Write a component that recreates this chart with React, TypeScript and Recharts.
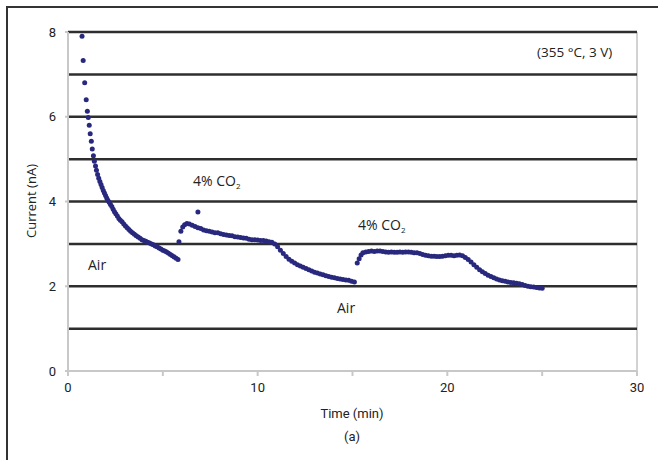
import {
  ReferenceLine,
  Scatter,
  ScatterChart,
  XAxis,
  YAxis,
} from "recharts";

// [time (min), current (nA)]
const AIR_DECAY: [number, number][] = [
  [0.74, 7.9], [0.8, 7.33], [0.88, 6.8], [0.96, 6.4], [1.02, 6.13], [1.07, 5.98],
  [1.12, 5.8], [1.17, 5.6], [1.23, 5.42], [1.28, 5.24], [1.34, 5.08], [1.39, 4.95],
  [1.45, 4.84], [1.5, 4.74], [1.56, 4.64], [1.62, 4.55], [1.68, 4.47], [1.74, 4.4],
  [1.8, 4.33], [1.86, 4.26], [1.92, 4.2], [1.98, 4.14], [2.04, 4.08], [2.1, 4.03],
  [2.17, 3.98], [2.24, 3.93], [2.31, 3.88], [2.38, 3.82], [2.45, 3.76], [2.52, 3.71],
  [2.6, 3.66], [2.68, 3.6], [2.76, 3.56], [2.85, 3.52], [2.94, 3.47], [3.03, 3.42],
  [3.12, 3.38], [3.21, 3.34], [3.3, 3.3], [3.4, 3.26], [3.5, 3.23], [3.6, 3.19],
  [3.7, 3.16], [3.8, 3.13], [3.9, 3.1], [4.0, 3.08], [4.1, 3.06], [4.2, 3.04],
  [4.3, 3.02], [4.4, 3.0], [4.5, 2.98], [4.6, 2.95], [4.7, 2.93], [4.8, 2.9],
  [4.9, 2.88], [5.0, 2.85], [5.1, 2.83], [5.2, 2.81], [5.3, 2.78], [5.4, 2.75],
  [5.5, 2.72], [5.6, 2.69], [5.7, 2.66], [5.8, 2.63],
];

const CO2_FIRST: [number, number][] = [
  [5.85, 3.05], [5.95, 3.3], [6.05, 3.4], [6.15, 3.45], [6.27, 3.48], [6.4, 3.47],
  [6.55, 3.44], [6.7, 3.41], [6.85, 3.38], [6.85, 3.75], [7.0, 3.36], [7.15, 3.33],
  [7.3, 3.31], [7.45, 3.3], [7.6, 3.28], [7.75, 3.26], [7.9, 3.26], [8.05, 3.24],
  [8.2, 3.22], [8.35, 3.21], [8.5, 3.2], [8.65, 3.19], [8.8, 3.17], [8.95, 3.16],
  [9.1, 3.15], [9.25, 3.14], [9.4, 3.13], [9.55, 3.11], [9.7, 3.1], [9.85, 3.1],
  [10.0, 3.09], [10.15, 3.08], [10.3, 3.08], [10.45, 3.07], [10.6, 3.05], [10.75, 3.04],
  [10.9, 3.0], [11.05, 2.93], [11.2, 2.85], [11.35, 2.77], [11.5, 2.7], [11.65, 2.64],
  [11.8, 2.59], [11.95, 2.55], [12.1, 2.51], [12.25, 2.48], [12.4, 2.45], [12.55, 2.42],
  [12.7, 2.39], [12.85, 2.36], [13.0, 2.33], [13.15, 2.31], [13.3, 2.29], [13.45, 2.27],
  [13.6, 2.25], [13.75, 2.23], [13.9, 2.21], [14.05, 2.2], [14.2, 2.18], [14.35, 2.17],
  [14.5, 2.16], [14.65, 2.15], [14.8, 2.14], [14.95, 2.12], [15.1, 2.1],
];

const CO2_SECOND: [number, number][] = [
  [15.25, 2.55], [15.35, 2.65], [15.45, 2.74], [15.55, 2.79], [15.7, 2.81], [15.85, 2.82],
  [16.0, 2.83], [16.15, 2.82], [16.3, 2.83], [16.45, 2.83], [16.6, 2.82], [16.75, 2.81],
  [16.9, 2.8], [17.05, 2.81], [17.2, 2.8], [17.35, 2.8], [17.5, 2.81], [17.65, 2.8],
  [17.8, 2.81], [17.95, 2.81], [18.1, 2.8], [18.25, 2.79], [18.4, 2.79], [18.55, 2.77],
  [18.7, 2.75], [18.85, 2.73], [19.0, 2.72], [19.15, 2.71], [19.3, 2.71], [19.45, 2.7],
  [19.6, 2.7], [19.75, 2.71], [19.9, 2.72], [20.05, 2.73], [20.2, 2.73], [20.35, 2.72],
  [20.5, 2.73], [20.65, 2.74], [20.8, 2.72], [20.95, 2.68], [21.1, 2.63], [21.25, 2.57],
  [21.4, 2.51], [21.55, 2.45], [21.7, 2.39], [21.85, 2.34], [22.0, 2.3], [22.15, 2.26],
  [22.3, 2.23], [22.45, 2.2], [22.6, 2.17], [22.75, 2.15], [22.9, 2.13], [23.05, 2.12],
  [23.2, 2.1], [23.35, 2.09], [23.5, 2.08], [23.65, 2.07], [23.8, 2.06], [23.95, 2.04],
  [24.1, 2.02], [24.25, 2.0], [24.4, 1.99], [24.55, 1.98], [24.7, 1.97], [24.85, 1.96],
  [25.0, 1.95],
];

const X_TICKS = [0, 5, 10, 15, 20, 25, 30];
const Y_TICKS = [0, 2, 4, 6, 8];
const GRID_LEVELS = [1, 2, 3, 4, 5, 6, 7, 8];

const DOT = "#28287e";
const toRows = (pts: [number, number][]) => pts.map(([t, i]) => ({ t, i }));

const Dot = (p: any) => <circle cx={p.cx} cy={p.cy} r={2.5} fill={DOT} />;

const note: React.CSSProperties = {
  position: "absolute",
  fontFamily: "'Open Sans', sans-serif",
  fontSize: 14,
  color: "#222",
  lineHeight: "16px",
  whiteSpace: "nowrap",
};

const Co2 = () => (
  <>
    4% CO<sub style={{ fontSize: 8, verticalAlign: "-3px" }}>2</sub>
  </>
);

export default function App() {
  return (
    <div
      style={{
        position: "absolute",
        left: 0,
        top: 0,
        width: 658,
        height: 460,
        background: "#fff",
        fontFamily: "Roboto, sans-serif",
      }}
    >
      {/* frame: only top and left edges are in view */}
      <div
        style={{
          position: "absolute",
          left: 6,
          top: 6,
          right: 0,
          bottom: 0,
          borderLeft: "2px solid #333",
          borderTop: "2px solid #333",
        }}
      />
      <ScatterChart
        width={658}
        height={460}
        margin={{ top: 32, right: 21, bottom: 59, left: 0 }}
        style={{ position: "absolute", left: 0, top: 0 }}
      >
        <XAxis
          type="number"
          dataKey="t"
          domain={[0, 30]}
          ticks={X_TICKS}
          tickFormatter={(v) => (v % 10 === 0 ? String(v) : "")}
          height={30}
          tickSize={5}
          tickMargin={7}
          stroke="#c8c8c8"
          strokeWidth={2}
          tick={{ fill: "#222", fontSize: 13, fontFamily: "Roboto, sans-serif" }}
        />
        <YAxis
          type="number"
          dataKey="i"
          domain={[0, 8]}
          ticks={Y_TICKS}
          width={68}
          tickSize={3}
          tickMargin={9}
          stroke="#c8c8c8"
          strokeWidth={2}
          tick={{ fill: "#222", fontSize: 13, fontFamily: "Roboto, sans-serif" }}
        />
        <ReferenceLine x={30} stroke="#d2d2d2" strokeWidth={2} />
        {GRID_LEVELS.map((v) => (
          <ReferenceLine key={v} y={v} stroke="#2e2e2e" strokeWidth={2.5} />
        ))}
        <Scatter data={toRows(AIR_DECAY)} shape={Dot} isAnimationActive={false} />
        <Scatter data={toRows(CO2_FIRST)} shape={Dot} isAnimationActive={false} />
        <Scatter data={toRows(CO2_SECOND)} shape={Dot} isAnimationActive={false} />
      </ScatterChart>

      <div style={{ ...note, left: 88, top: 257 }}>Air</div>
      <div style={{ ...note, left: 193, top: 173 }}>
        <Co2 />
      </div>
      <div style={{ ...note, left: 358, top: 217 }}>
        <Co2 />
      </div>
      <div style={{ ...note, left: 337, top: 300 }}>Air</div>
      <div style={{ ...note, left: 537, top: 44, fontSize: 13.5 }}>(355 °C, 3 V)</div>

      <div
        style={{
          position: "absolute",
          left: 31,
          top: 201,
          transform: "translate(-50%, -50%) rotate(-90deg)",
          fontFamily: "'Open Sans', sans-serif",
          fontSize: 13,
          color: "#222",
          whiteSpace: "nowrap",
        }}
      >
        Current (nA)
      </div>
      <div
        style={{
          position: "absolute",
          left: 352,
          top: 413,
          transform: "translate(-50%, -50%)",
          fontSize: 13,
          color: "#222",
          whiteSpace: "nowrap",
        }}
      >
        Time (min)
      </div>
      <div
        style={{
          position: "absolute",
          left: 352,
          top: 436,
          transform: "translate(-50%, -50%)",
          fontSize: 13,
          color: "#222",
        }}
      >
        (a)
      </div>
    </div>
  );
}
